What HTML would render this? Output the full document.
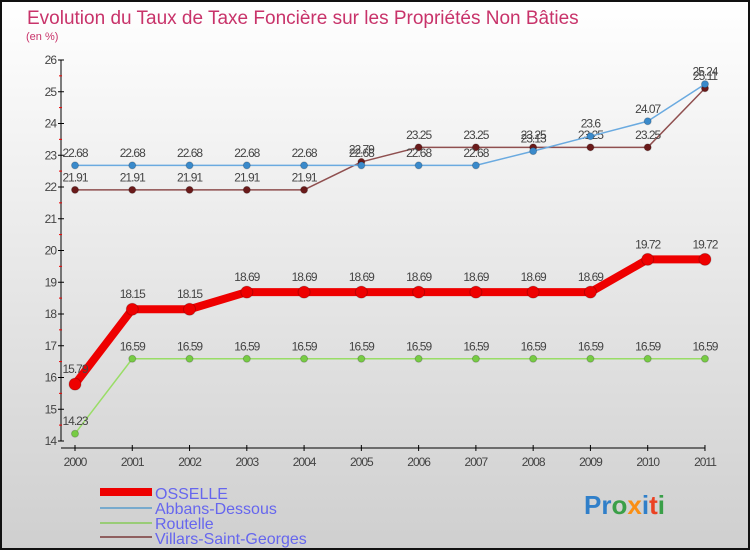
<!DOCTYPE html>
<html><head><meta charset="utf-8"><style>
html,body{margin:0;padding:0}
body{width:750px;height:550px;overflow:hidden;font-family:"Liberation Sans",sans-serif}
svg text{font-family:"Liberation Sans",sans-serif}
</style></head><body>
<svg id="chart" width="750" height="550" xmlns="http://www.w3.org/2000/svg">
<defs><linearGradient id="bg" x1="0" y1="0" x2="0" y2="1"><stop offset="0" stop-color="#ffffff"/><stop offset="1" stop-color="#cfcfcf"/></linearGradient></defs>
<rect x="1" y="1" width="748" height="548" fill="url(#bg)" stroke="#111" stroke-width="2"/>
<text x="27" y="24" font-size="19" fill="#c8336a">Evolution du Taux de Taxe Foncière sur les Propriétés Non Bâties</text>
<text x="26" y="40" font-size="11" fill="#c8336a">(en %)</text>
<g id="axes"></g><g id="series"></g>
<g>
<rect x="100" y="488" width="52" height="8" fill="#ee0000"/><text x="155" y="499" font-size="16" fill="#6666ee">OSSELLE</text>
<rect x="100" y="507" width="52" height="2" fill="#78aacd"/><text x="155" y="514" font-size="16" fill="#6666ee">Abbans-Dessous</text>
<rect x="100" y="522" width="52" height="2" fill="#99cc77"/><text x="155" y="529" font-size="16" fill="#6666ee">Routelle</text>
<rect x="100" y="536" width="52" height="2" fill="#8f5f5f"/><text x="155" y="544" font-size="16" fill="#6666ee">Villars-Saint-Georges</text>
</g>
<g font-size="26" font-weight="bold">
<text x="584" y="514" opacity="0.9"><tspan fill="#1f77c9">Pr</tspan><tspan fill="#2a9a3a">o</tspan><tspan fill="#ff8800">x</tspan><tspan fill="#1f77c9">i</tspan><tspan fill="#ee3311">t</tspan><tspan fill="#2a9a3a">i</tspan></text>
</g>
</svg>
<script>
const years=["2000","2001","2002","2003","2004","2005","2006","2007","2008","2009","2010","2011"];
const yTicks=[14,15,16,17,18,19,20,21,22,23,24,25,26];
const osselle=[15.79,18.15,18.15,18.69,18.69,18.69,18.69,18.69,18.69,18.69,19.72,19.72];
const abbans=[22.68,22.68,22.68,22.68,22.68,22.68,22.68,22.68,23.13,23.6,24.07,25.24];
const routelle=[14.23,16.59,16.59,16.59,16.59,16.59,16.59,16.59,16.59,16.59,16.59,16.59];
const villars=[21.91,21.91,21.91,21.91,21.91,22.79,23.25,23.25,23.25,23.25,23.25,25.11];
const NS="http://www.w3.org/2000/svg";
const xS=i=>75+i*57.27, yS=v=>441-(v-14)*31.75;
function mk(t,a,p){const e=document.createElementNS(NS,t);for(const k in a)e.setAttribute(k,a[k]);p.appendChild(e);return e;}
const ax=document.getElementById('axes');
const yl=mk('line',{x1:61,y1:60,x2:61,y2:441,stroke:'#000'},ax);


const xl=mk('line',{x1:61,y1:448,x2:705,y2:448,stroke:'#000'},ax);


yTicks.forEach(v=>{const y=yS(v);mk('line',{x1:58,y1:y,x2:64,y2:y,stroke:'#000'},ax);
 if(v<26)mk('line',{x1:59,y1:y-15.9,x2:62,y2:y-15.9,stroke:'#e00'},ax);
 const t=mk('text',{x:56,y:y+4,'text-anchor':'end','font-size':12,fill:'#444','letter-spacing':'-1'},ax);t.textContent=v;
 
 });
years.forEach((yr,i)=>{const x=xS(i);mk('line',{x1:x,y1:445,x2:x,y2:451,stroke:'#000'},ax);
 const t=mk('text',{x:x,y:466,'text-anchor':'middle','font-size':12,fill:'#444','letter-spacing':'-1'},ax);t.textContent=yr;
 
 });
const sg=document.getElementById('series');
function draw(vals,name,col,w,r,dot){const g=mk('g',{},sg);
 
 
 mk('polyline',{points:vals.map((v,i)=>xS(i)+','+yS(v)).join(' '),fill:'none',stroke:col,'stroke-width':w,'stroke-linejoin':'round'},g);
 vals.forEach((v,i)=>{const c=mk('circle',{cx:xS(i),cy:yS(v),r:r,fill:dot,stroke:'rgba(0,0,0,0.2)'},g);
  
  
  const t=mk('text',{x:xS(i),y:yS(v)-r-5,'text-anchor':'middle','font-size':12,fill:'#444','letter-spacing':'-1'},g);t.textContent=v;});}
draw(villars,'villars','#8f4f4f',1.5,3.5,'#6a1a1a');
draw(abbans,'abbans','#6aaae0',1.5,3.5,'#3a8acb');
draw(routelle,'routelle','#99dd66',1.5,3.5,'#77cc44');
draw(osselle,'osselle','#ee0000',8,6,'#ee0000');
</script>
</body></html>
